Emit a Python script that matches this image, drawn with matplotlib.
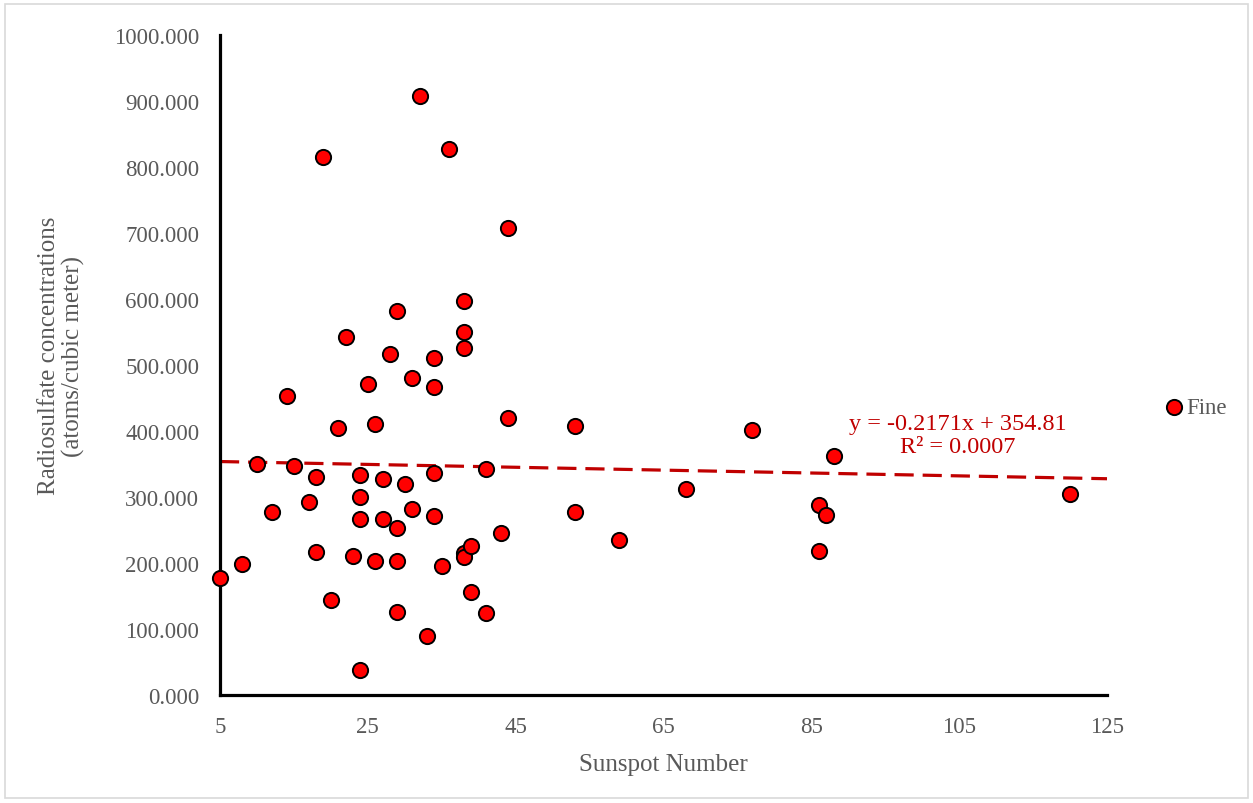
import matplotlib
matplotlib.use("Agg")
import matplotlib.pyplot as plt
from matplotlib.patches import Rectangle
import numpy as np

# Sunspot number vs. fine-particle radiosulfate concentration
sunspot = [5, 8, 10, 12, 14, 15, 17, 18, 18, 19, 20, 21, 22, 23, 24, 24, 24, 24,
           25, 26, 26, 27, 27, 28, 29, 29, 29, 29, 30, 31, 31, 32, 33, 34, 34, 34,
           34, 35, 36, 38, 38, 38, 38, 38, 39, 39, 41, 41, 43, 44, 44, 53, 53, 59,
           68, 77, 86, 86, 87, 88, 120]
radiosulfate = [178, 198, 350, 278, 453, 347, 292, 331, 217, 815, 144, 404, 542,
                210, 333, 300, 267, 38, 471, 411, 203, 328, 266, 516, 582, 253, 203,
                126, 320, 480, 282, 907, 90, 511, 466, 337, 271, 196, 827, 597, 550,
                526, 215, 209, 226, 156, 343, 124, 245, 707, 419, 408, 277, 235, 312,
                401, 288, 218, 273, 362, 305]

# Linear trendline coefficients
slope = -0.2171
intercept = 354.81
r_squared = 0.0007

x_ticks = [5, 25, 45, 65, 85, 105, 125]
y_ticks = list(range(0, 1001, 100))

plt.rcParams['font.family'] = ['Liberation Serif', 'DejaVu Serif']
tick_grey = '#595959'
trend_red = '#C00000'

W, H = 1253, 804
fig = plt.figure(figsize=(W / 100, H / 100), dpi=100)
fig.patches.append(Rectangle((5 / W, 5 / H), 1 - 10 / W, 1 - 10 / H,
                             transform=fig.transFigure, fill=False,
                             edgecolor='#D9D9D9', linewidth=1.2))

ax = fig.add_axes([220 / W, 1 - 696 / H, (1107 - 220) / W, (696 - 36) / H])

tx = np.array([x_ticks[0], x_ticks[-1]], dtype=float)
ax.plot(tx, slope * tx + intercept, color=trend_red, linewidth=2.3,
        linestyle=(0, (6, 2.8)), zorder=2, label='_nolegend_', clip_on=False)

ax.scatter(sunspot, radiosulfate, s=120, facecolor='#FF0000', edgecolor='black',
           linewidth=1.4, zorder=3, clip_on=False, label='Fine')

ax.set_xlim(x_ticks[0], x_ticks[-1])
ax.set_ylim(y_ticks[0], y_ticks[-1])
ax.set_xticks(x_ticks)
ax.set_yticks(y_ticks)
ax.set_yticklabels([f'{v:.3f}' for v in y_ticks])
ax.tick_params(length=0, labelsize=16.5, labelcolor=tick_grey, pad=15)

for side in ('top', 'right'):
    ax.spines[side].set_visible(False)
for side in ('left', 'bottom'):
    ax.spines[side].set_linewidth(2.3)
    ax.spines[side].set_color('black')

ax.set_xlabel('Sunspot Number', fontsize=18, color=tick_grey, labelpad=12)
ax.set_ylabel('Radiosulfate concentrations\n(atoms/cubic meter)', fontsize=18,
              color=tick_grey, linespacing=1.1)
ax.yaxis.set_label_coords(-0.152, 0.515)

# Trendline equation label
fig.text(958 / W, 1 - 436 / H, f'y = {slope}x + {intercept}\nR² = {r_squared}',
         ha='center', va='center', fontsize=17.5, color=trend_red,
         linespacing=1.15)

ax.legend(loc='center left', bbox_to_anchor=(1163 / W, 1 - 408 / H),
          bbox_transform=fig.transFigure, frameon=False, fontsize=16.5,
          handletextpad=0.0, handlelength=1.0, borderpad=0, borderaxespad=0,
          labelcolor=tick_grey)

fig.savefig('out.png', dpi=100)
